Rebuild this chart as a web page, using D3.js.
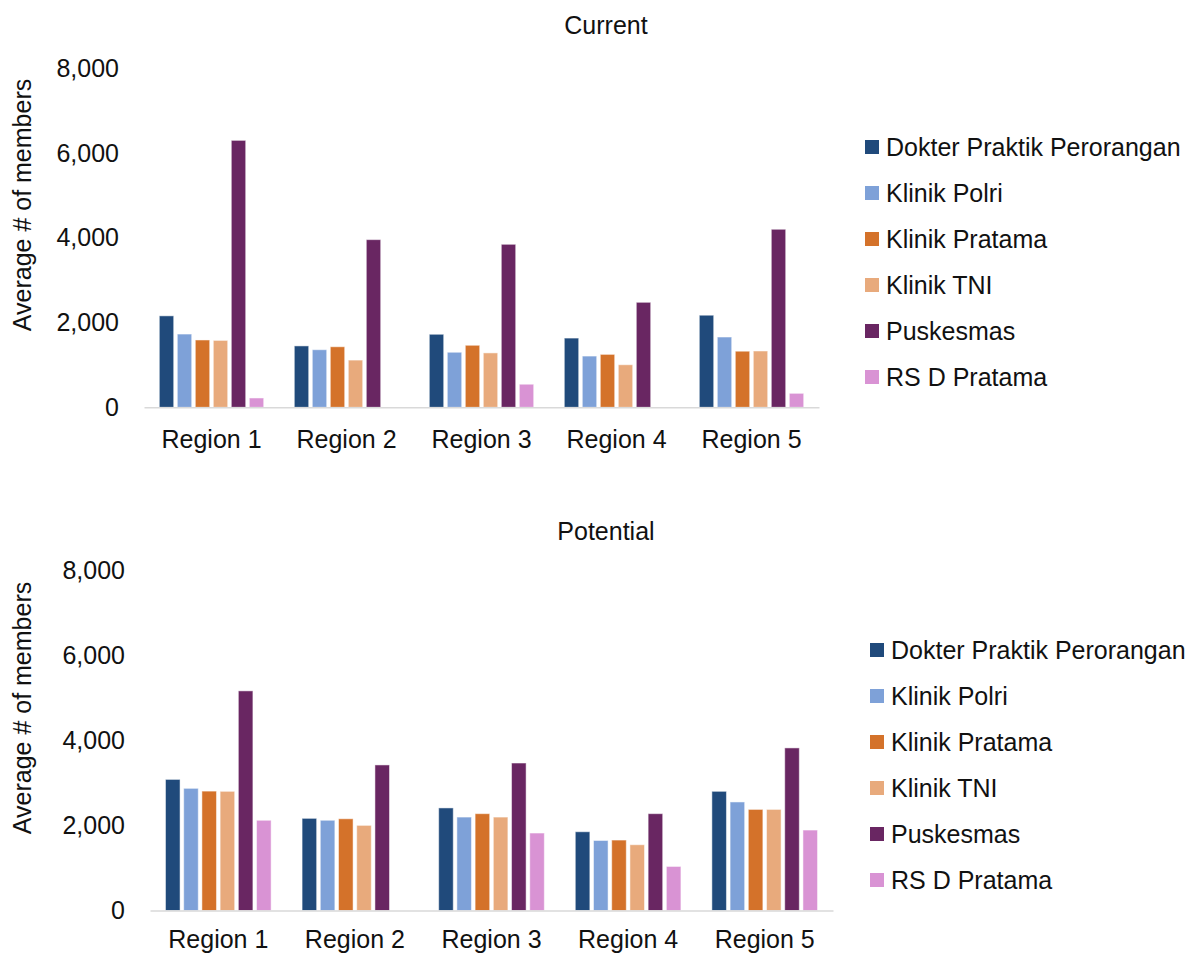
<!DOCTYPE html>
<html>
<head>
<meta charset="utf-8">
<script src="https://cdn.jsdelivr.net/npm/d3@7"></script>
<style>
  body { margin: 0; background: #fff; }
  svg text { font-family: "Liberation Sans", Arial, sans-serif; fill: #111; }
</style>
</head>
<body>
<div id="chart"></div>
<script>
// data
const regions = ["Region 1", "Region 2", "Region 3", "Region 4", "Region 5"];
const facilities = ["Dokter Praktik Perorangan", "Klinik Polri", "Klinik Pratama", "Klinik TNI", "Puskesmas", "RS D Pratama"];
const colors = ["#204a7b", "#7ea1d8", "#d4722a", "#e8aa7c", "#692662", "#d993d4"];
const yTicks = [0, 2000, 4000, 6000, 8000];

// rows = facility, cols = region
const currentValues = [
  [2160, 1450, 1725, 1635, 2175],
  [1730, 1360, 1300, 1210, 1660],
  [1590, 1430, 1465, 1250, 1325],
  [1580, 1115, 1285, 1005, 1330],
  [6305, 3960, 3850, 2480, 4205],
  [220, 0, 545, 0, 330]
];
const potentialValues = [
  [3080, 2165, 2410, 1850, 2800],
  [2870, 2120, 2195, 1645, 2550],
  [2805, 2155, 2275, 1655, 2375],
  [2800, 2000, 2195, 1545, 2375],
  [5160, 3420, 3465, 2275, 3820],
  [2120, 0, 1820, 1035, 1890]
];

let width = 1190;
let height = 954;

let svg = d3.select("#chart")
    .append("svg")
    .attr("width", width)
    .attr("height", height);

function drawChart(opts){
    let x = d3.scaleBand()
        .domain(regions)
        .range([opts.x0, opts.x1])
        .paddingInner(0.2)
        .paddingOuter(0.1);
    let xi = d3.scaleBand()
        .domain(facilities)
        .range([0, x.bandwidth()])
        .paddingInner(0.2)
        .paddingOuter(0.1);
    let y = d3.scaleLinear()
        .domain([0, 8000])
        .range([opts.yBase, opts.yTop]);

    let g = svg.append("g");

    g.append("text")
        .attr("x", 606)
        .attr("y", opts.titleY)
        .attr("text-anchor", "middle")
        .style("font-size", "25px")
        .text(opts.title);

    // y axis: labels only
    g.append("g")
        .attr("transform", `translate(${opts.x0},0)`)
        .call(d3.axisLeft(y).tickValues(yTicks).tickSize(0).tickPadding(25).tickFormat(d3.format(",")))
        .call(a => a.select(".domain").remove())
        .call(a => a.selectAll("text").style("font-size", "25px").attr("fill", "#111"));

    g.append("text")
        .attr("transform", `translate(31,${opts.yLabelY}) rotate(-90)`)
        .attr("text-anchor", "middle")
        .style("font-size", "25px")
        .text("Average # of members");

    // bars
    let groups = g.append("g")
        .selectAll("g")
        .data(regions)
        .join("g")
        .attr("transform", d => `translate(${x(d)},0)`);

    groups.selectAll("rect")
        .data((r, ri) => facilities.map((f, fi) => ({f: f, fi: fi, v: opts.values[fi][ri]})))
        .join("rect")
        .filter(d => d.v > 0)
        .attr("x", d => xi(d.f))
        .attr("width", xi.bandwidth())
        .attr("y", d => y(d.v))
        .attr("height", d => y(0) - y(d.v))
        .attr("fill", d => colors[d.fi])
        .attr("stroke", "#fff")
        .attr("stroke-opacity", 0.5)
        .attr("stroke-width", 1);

    // x axis
    g.append("g")
        .attr("transform", `translate(0,${opts.yBase})`)
        .call(d3.axisBottom(x).tickSize(0).tickPadding(opts.xPad))
        .call(a => a.select(".domain").attr("stroke", "#d9d9d9").attr("stroke-width", 1.5))
        .call(a => a.selectAll("text").style("font-size", "25px").attr("fill", "#111"));

    // legend
    let legend = g.append("g")
        .selectAll("g")
        .data(facilities)
        .join("g")
        .attr("transform", (d, i) => `translate(${opts.legendX},${opts.legendY + i * 46})`);
    legend.append("rect")
        .attr("x", 0)
        .attr("y", -7)
        .attr("width", 14)
        .attr("height", 14)
        .attr("fill", (d, i) => colors[i]);
    legend.append("text")
        .attr("x", 21)
        .attr("y", 0)
        .attr("dy", "0.35em")
        .style("font-size", "25px")
        .text(d => d);
}

drawChart({
    title: "Current", titleY: 34, values: currentValues,
    x0: 144, x1: 819, yBase: 407.3, yTop: 68.6, yLabelY: 205, xPad: 23,
    legendX: 865, legendY: 147
});

drawChart({
    title: "Potential", titleY: 540, values: potentialValues,
    x0: 150, x1: 833, yBase: 910.5, yTop: 570, yLabelY: 708, xPad: 20,
    legendX: 870, legendY: 650
});
</script>
</body>
</html>
